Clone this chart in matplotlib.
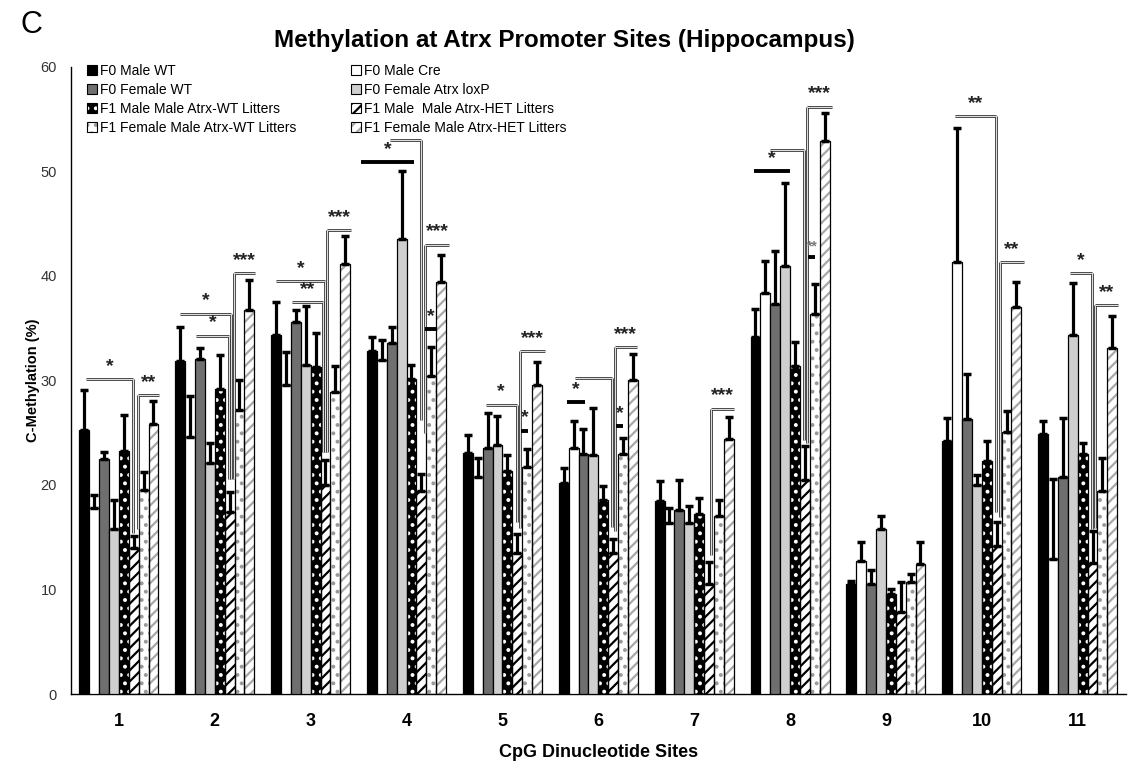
import matplotlib
matplotlib.use("Agg")
import matplotlib.pyplot as plt
from matplotlib.patches import Patch
import numpy as np

plt.rcParams['font.family'] = ['Liberation Sans', 'DejaVu Sans']
plt.rcParams['hatch.linewidth'] = 1.6

sites = [1, 2, 3, 4, 5, 6, 7, 8, 9, 10, 11]

groups = ["F0 Male WT", "F0 Male Cre", "F0 Female WT", "F0 Female Atrx loxP",
          "F1 Male Male Atrx-WT Litters", "F1 Male  Male Atrx-HET Litters",
          "F1 Female Male Atrx-WT Litters", "F1 Female Male Atrx-HET Litters"]

# mean methylation per group, one value per CpG site
f0_male_wt = [25.3, 31.9, 34.4, 32.8, 23.1, 20.2, 18.5, 34.2, 10.5, 24.2, 24.9]
f0_male_cre = [17.8, 24.6, 29.6, 32.0, 20.8, 23.5, 16.4, 38.4, 12.7, 41.3, 12.9]
f0_female_wt = [22.5, 32.1, 35.6, 33.6, 23.5, 23.0, 17.6, 37.3, 10.5, 26.3, 20.8]
f0_female_loxp = [15.8, 22.1, 31.5, 43.5, 23.8, 22.9, 16.4, 41.0, 15.8, 20.0, 34.4]
f1_male_wt = [23.3, 29.2, 31.3, 30.1, 21.3, 18.6, 17.2, 31.4, 9.6, 22.3, 23.0]
f1_male_het = [14.0, 17.4, 20.0, 19.4, 13.5, 13.5, 10.5, 20.5, 7.8, 14.2, 12.5]
f1_female_wt = [19.5, 27.2, 28.9, 30.4, 21.7, 23.0, 17.0, 36.4, 10.7, 25.1, 19.4]
f1_female_het = [25.8, 36.7, 41.1, 39.4, 29.6, 30.0, 24.4, 52.9, 12.4, 37.0, 33.1]

# SEM
f0_male_wt_sem = [3.8, 3.2, 3.1, 1.4, 1.7, 1.4, 1.9, 2.6, 0.3, 2.2, 1.2]
f0_male_cre_sem = [1.2, 3.9, 3.1, 1.9, 1.8, 2.6, 1.4, 3.0, 1.8, 12.9, 7.7]
f0_female_wt_sem = [0.7, 1.0, 1.1, 1.5, 3.4, 2.4, 2.9, 5.1, 1.4, 4.3, 5.6]
f0_female_loxp_sem = [2.8, 1.9, 5.6, 6.5, 2.8, 4.5, 1.6, 7.9, 1.2, 1.0, 4.9]
f1_male_wt_sem = [3.4, 3.2, 3.2, 1.4, 1.6, 1.3, 1.6, 2.3, 0.4, 1.9, 1.0]
f1_male_het_sem = [1.1, 1.9, 2.4, 1.7, 1.8, 1.3, 2.1, 3.2, 2.9, 2.3, 3.1]
f1_female_wt_sem = [1.7, 2.8, 2.5, 2.8, 1.7, 1.5, 1.6, 2.8, 0.8, 2.0, 3.2]
f1_female_het_sem = [2.2, 2.9, 2.7, 2.6, 2.2, 2.5, 2.1, 2.7, 2.1, 2.4, 3.1]

means = [f0_male_wt, f0_male_cre, f0_female_wt, f0_female_loxp,
         f1_male_wt, f1_male_het, f1_female_wt, f1_female_het]
sems = [f0_male_wt_sem, f0_male_cre_sem, f0_female_wt_sem, f0_female_loxp_sem,
        f1_male_wt_sem, f1_male_het_sem, f1_female_wt_sem, f1_female_het_sem]

# (face colour, hatch, hatch colour) for each group
styles = [('black', None, None), ('white', None, None), ('#6f6f6f', None, None),
          ('#cfcfcf', None, None), ('black', '..', 'white'), ('white', '///', 'black'),
          ('white', '..', '#9a9a9a'), ('white', '///', '#a8a8a8')]

# significance marks: (site, from bar, to bar, height, leg side, leg bottom, label)
brackets = [
    (1, 0.2, 4.9, 30.1, 'right', 15.4, '*'), (1, 5.4, 7.6, 28.6, 'left', 15.8, '**'),
    (2, 0.0, 5.1, 36.4, 'right', 20.6, '*'), (2, 1.6, 4.9, 34.3, 'right', 20.6, '*'),
    (2, 5.4, 7.6, 40.3, 'left', 20.6, '***'),
    (3, 0.0, 4.95, 39.5, 'right', 23.2, '*'), (3, 1.65, 4.75, 37.5, 'right', 23.2, '**'),
    (3, 5.2, 7.55, 44.4, 'left', 23.2, '***'),
    (4, 1.8, 4.93, 53.0, 'right', 26.2, ''), (4, 5.33, 7.85, 43.0, 'left', 25.0, '***'),
    (5, 1.8, 4.93, 27.7, 'right', 16.5, '*'), (5, 5.26, 7.86, 32.8, 'left', 15.9, '***'),
    (6, 1.14, 4.92, 30.2, 'right', 16.0, ''), (6, 5.15, 7.44, 33.2, 'left', 15.6, '***'),
    (7, 5.23, 7.52, 27.3, 'left', 13.3, '***'),
    (8, 1.46, 4.9, 52.1, 'right', 24.3, ''), (8, 5.24, 7.7, 56.2, 'left', 24.0, '***'),
    (10, 0.83, 4.97, 55.3, 'right', 17.4, '**'), (10, 5.37, 7.73, 41.3, 'left', 16.9, '**'),
    (11, 2.73, 4.92, 40.3, 'right', 15.8, '*'), (11, 5.25, 7.61, 37.2, 'left', 15.9, '**'),
]
# plain thick lines with a label: (site, from bar, to bar, height, label)
dashes = [
    (4, -1.1, 4.3, 50.9, '*'), (4, 5.42, 6.44, 34.9, '*'),
    (5, 5.36, 6.11, 25.2, '*'),
    (6, 0.3, 2.15, 27.9, '*'), (6, 5.28, 6.03, 25.6, '*'),
    (8, -0.16, 3.54, 50.0, '*'), (8, 5.3, 6.06, 41.8, '**'),
]

width = 0.103
x = np.array(sites, dtype=float)


def bar_x(site, b):
    return site + (b - 3.5) * width


fig = plt.figure(figsize=(11.28, 7.70), dpi=100)
ax = fig.add_axes([0.0629, 0.0987, 0.935, 0.8143])

for i in range(8):
    xs = x + (i - 3.5) * width
    fc, hatch, hc = styles[i]
    if hatch:
        ax.bar(xs, means[i], width, color=fc, hatch=hatch, edgecolor=hc, linewidth=0, zorder=2)
        ax.bar(xs, means[i], width, facecolor='none', edgecolor='black', linewidth=0.9, zorder=3)
    else:
        ax.bar(xs, means[i], width, color=fc, edgecolor='black', linewidth=0.9, zorder=3)
    ax.errorbar(xs, means[i], yerr=[np.zeros(len(sites)), sems[i]], fmt='none',
                ecolor='black', elinewidth=2.3, capsize=2.9, capthick=2.5, zorder=4)

for site, b0, b1, h, side, bottom, lab in brackets:
    x0, x1 = bar_x(site, b0), bar_x(site, b1)
    xl = x1 if side == 'right' else x0
    for lw, c in [(2.0, '#3a3a3a'), (0.6, 'white')]:
        ax.plot([x0, x1], [h, h], color=c, lw=lw, solid_capstyle='butt', zorder=5)
        ax.plot([xl, xl], [h, bottom], color=c, lw=lw, solid_capstyle='butt', zorder=5)
    if lab:
        ax.text((x0 + x1) / 2, h + 0.4, lab, ha='center', va='bottom', fontsize=14,
                fontweight='bold', color='#222222', zorder=6)

for site, b0, b1, h, lab in dashes:
    x0, x1 = bar_x(site, b0), bar_x(site, b1)
    ax.plot([x0, x1], [h, h], color='black', lw=2.8, solid_capstyle='butt', zorder=5)
    small = lab == '**'
    ax.text((x0 + x1) / 2, h + 0.4, lab, ha='center', va='bottom',
            fontsize=10 if small else 14, fontweight='bold',
            color='#777777' if small else '#222222', zorder=6)

ax.set_xlim(0.5, 11.5)
ax.set_ylim(0, 60)
ax.set_yticks(range(0, 61, 10))
ax.set_xticks(sites)
ax.set_xticklabels([str(s) for s in sites], fontweight='bold', fontsize=13)
ax.tick_params(axis='both', length=0)
ax.tick_params(axis='y', labelsize=10.5, labelcolor='#333333', pad=10)
ax.tick_params(axis='x', pad=14)
for s in ['top', 'right']:
    ax.spines[s].set_visible(False)
for s in ['left', 'bottom']:
    ax.spines[s].set_linewidth(1.0)

ax.set_xlabel('CpG Dinucleotide Sites', fontweight='bold', fontsize=13, labelpad=10)
ax.set_ylabel('C-Methylation (%)', fontweight='bold', fontsize=10.5)
ax.yaxis.set_label_coords(-0.029, 0.5)
fig.text(0.5, 0.947, 'Methylation at Atrx Promoter Sites (Hippocampus)', ha='center', va='center',
         fontweight='bold', fontsize=17.5)
fig.text(0.018, 0.968, 'C', ha='left', va='center', fontsize=22)

handles = []
for i in range(8):
    fc, hatch, hc = styles[i]
    if hatch:
        handles.append((Patch(facecolor=fc, hatch=hatch, edgecolor=hc, linewidth=0),
                        Patch(facecolor='none', edgecolor='black', linewidth=0.8)))
    else:
        handles.append(Patch(facecolor=fc, edgecolor='black', linewidth=0.8))
order = [0, 2, 4, 6, 1, 3, 5, 7]
ax.legend([handles[k] for k in order], [groups[k] for k in order], ncol=2, frameon=False,
          loc='upper left', bbox_to_anchor=(0.01, 1.014), fontsize=10, handlelength=0.7,
          handleheight=0.7, handletextpad=0.2, labelspacing=0.36, columnspacing=4.0,
          borderaxespad=0)

fig.savefig('out.png', dpi=100)
